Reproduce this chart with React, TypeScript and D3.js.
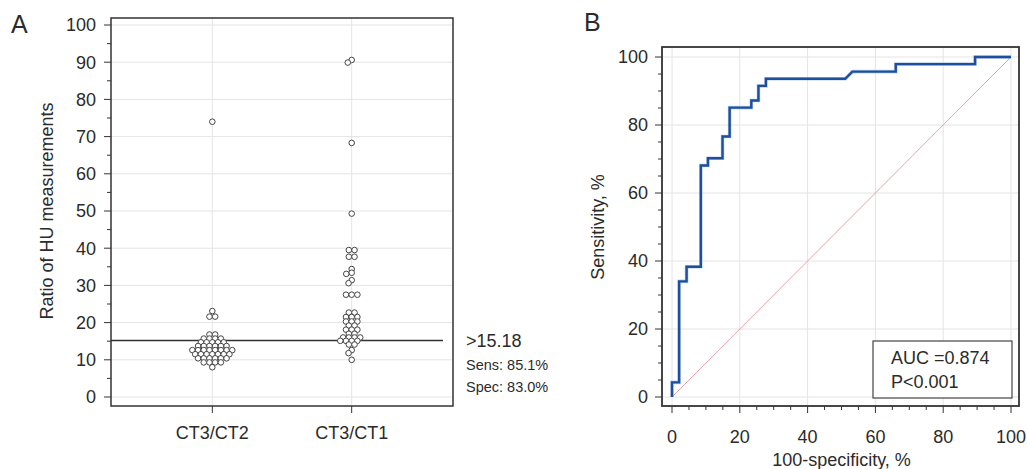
import * as d3 from "d3";

// ---- data ----
const categories = ["CT3/CT2", "CT3/CT1"];
const ratioCt3Ct2 = [
  74.0, 23.1, 21.6, 21.6, 16.8, 16.8, 15.7, 15.7, 15.7, 15.7,
  14.7, 14.7, 14.7, 14.7, 14.7,
  13.7, 13.7, 13.7, 13.7, 13.7, 13.7,
  12.6, 12.6, 12.6, 12.6, 12.6, 12.6, 12.6, 12.6,
  11.5, 11.5, 11.5, 11.5, 11.5, 11.5, 11.5,
  10.4, 10.4, 10.4, 10.4, 10.4, 10.4,
  9.3, 9.3, 9.3, 9.3, 8.0,
];
const ratioCt3Ct1 = [
  90.6, 89.9, 68.3, 49.3, 39.5, 39.5, 37.7, 37.7, 34.4, 33.4, 33.1, 31.4, 30.6,
  27.5, 27.5, 27.5, 22.7, 22.7, 21.5, 21.5, 21.5, 20.3, 20.3, 20.3,
  19.2, 19.2, 18.1, 18.1, 18.1, 17.0, 17.0,
  16.0, 16.0, 16.0, 16.0, 15.1, 15.1, 15.1, 15.1,
  14.1, 14.1, 12.6, 11.8, 10.0,
];
const cutoff = 15.18;
const cutoffLabels = [">15.18", "Sens: 85.1%", "Spec: 83.0%"];

const rocFpr = [0, 0, 2.1, 2.1, 4.3, 4.3, 8.5, 8.5, 10.6, 10.6, 14.9, 14.9, 17.0, 17.0,
  23.4, 23.4, 25.5, 25.5, 27.7, 27.7, 51.1, 53.2, 66.0, 66.0, 89.4, 89.4, 100];
const rocTpr = [0, 4.3, 4.3, 34.0, 34.0, 38.3, 38.3, 68.1, 68.1, 70.2, 70.2, 76.6, 76.6, 85.1,
  85.1, 87.2, 87.2, 91.5, 91.5, 93.6, 93.6, 95.7, 95.7, 97.9, 97.9, 100, 100];
const aucLabels = ["AUC =0.874", "P<0.001"];

const FONT = "'Liberation Sans', Arial, Helvetica, sans-serif";
const TXT = "#2b2b2b";
const GRID = "#e4e4e4";

// beeswarm: equal values are centred as a row, otherwise greedy nearest-to-centre.
// vertical gaps are weighted by k so stacked rows can sit close like the original
function swarm(vals: number[], y: (v: number) => number, d: number, k = 1.6) {
  const placed: { x: number; y: number }[] = [];
  const out: number[] = new Array(vals.length).fill(0);
  const hits = (cx: number, py: number) =>
    placed.some((p) => (p.x - cx) ** 2 + (k * (p.y - py)) ** 2 < d * d - 0.01);
  const groups = d3.groups(d3.range(vals.length), (i) => vals[i]).sort((a, b) => b[0] - a[0]);
  for (const [v, idx] of groups) {
    const py = y(v);
    const row = idx.map((_, j) => (j - (idx.length - 1) / 2) * d);
    if (!row.some((cx) => hits(cx, py))) {
      idx.forEach((i, j) => { out[i] = row[j]; placed.push({ x: row[j], y: py }); });
      continue;
    }
    for (const i of idx) {
      const cands = [0];
      placed.forEach((p) => {
        const dy = k * (p.y - py);
        if (Math.abs(dy) < d) {
          const dx = Math.sqrt(d * d - dy * dy);
          cands.push(p.x + dx, p.x - dx);
        }
      });
      cands.sort((a, b) => Math.abs(a) - Math.abs(b) || a - b);
      const x = cands.find((cx) => !hits(cx, py)) ?? 0;
      out[i] = x;
      placed.push({ x, y: py });
    }
  }
  return out;
}

function PanelA() {
  const frame = { l: 111, r: 453, t: 18, b: 406 };
  const y = d3.scaleLinear().domain([0, 100]).range([397, 25]);
  const x = d3.scalePoint<string>().domain(categories).range([frame.l, frame.r]).padding(0.727);
  const groups = [ratioCt3Ct2, ratioCt3Ct1];
  const major = d3.range(0, 101, 10);
  const minor = d3.range(0, 101, 5).filter((v) => v % 10 !== 0);
  return (
    <g fontFamily={FONT} fill={TXT}>
      <text x={11} y={33} fontSize={25}>A</text>
      {major.map((v) => (
        <line key={"gy" + v} x1={frame.l} x2={frame.r} y1={y(v)} y2={y(v)} stroke={GRID} />
      ))}
      {categories.map((c) => (
        <line key={"gx" + c} x1={x(c)} x2={x(c)} y1={frame.t} y2={frame.b} stroke={GRID} />
      ))}
      <line x1={frame.l} x2={443} y1={y(cutoff)} y2={y(cutoff)} stroke="#333" strokeWidth={1.4} />
      {groups.map((vals, gi) => {
        const offs = swarm(vals, y, 5.7);
        const cx = x(categories[gi])!;
        return vals.map((v, i) => (
          <circle key={gi + "-" + i} cx={cx + offs[i]} cy={y(v)} r={2.8} fill="white" stroke="#444" strokeWidth={1} />
        ));
      })}
      <rect x={frame.l} y={frame.t} width={frame.r - frame.l} height={frame.b - frame.t} fill="none" stroke="#333" strokeWidth={1.5} />
      {major.map((v) => (
        <g key={"t" + v}>
          <line x1={frame.l - 7} x2={frame.l} y1={y(v)} y2={y(v)} stroke="#333" />
          <text x={96} y={y(v)} dy="0.35em" textAnchor="end" fontSize={18}>{v}</text>
        </g>
      ))}
      {minor.map((v) => (
        <line key={"m" + v} x1={frame.l - 4} x2={frame.l} y1={y(v)} y2={y(v)} stroke="#333" />
      ))}
      {categories.map((c) => (
        <g key={"xc" + c}>
          <line x1={x(c)} x2={x(c)} y1={frame.b} y2={frame.b + 7} stroke="#333" />
          <text x={x(c)} y={439} textAnchor="middle" fontSize={18}>{c}</text>
        </g>
      ))}
      <text transform={`translate(53,${(y(0) + y(100)) / 2}) rotate(-90)`} textAnchor="middle" fontSize={18}>
        Ratio of HU measurements
      </text>
      <text x={466} y={347} fontSize={18}>{cutoffLabels[0]}</text>
      <text x={466} y={370} fontSize={14.5}>{cutoffLabels[1]}</text>
      <text x={466} y={392} fontSize={14.5}>{cutoffLabels[2]}</text>
    </g>
  );
}

function PanelB() {
  const frame = { l: 662, r: 1019, t: 47, b: 406 };
  const x = d3.scaleLinear().domain([0, 100]).range([672, 1011]);
  const y = d3.scaleLinear().domain([0, 100]).range([397, 57]);
  const major = d3.range(0, 101, 20);
  const minor = d3.range(0, 101, 5).filter((v) => v % 20 !== 0);
  const pts = rocFpr.map((f, i) => [f, rocTpr[i]] as [number, number]);
  const line = d3.line<[number, number]>().x((d) => x(d[0])).y((d) => y(d[1]));
  return (
    <g fontFamily={FONT} fill={TXT}>
      <text x={584} y={31} fontSize={25}>B</text>
      {major.map((v) => (
        <g key={"g" + v}>
          <line x1={frame.l} x2={frame.r} y1={y(v)} y2={y(v)} stroke={GRID} />
          <line x1={x(v)} x2={x(v)} y1={frame.t} y2={frame.b} stroke={GRID} />
        </g>
      ))}
      <line x1={x(0)} y1={y(0)} x2={x(100)} y2={y(100)} stroke="#e8a2aa" strokeWidth={1} />
      <path d={line(pts)!} fill="none" stroke="#8fb0dd" strokeWidth={3.6} strokeLinejoin="miter" opacity={0.6} />
      <path d={line(pts)!} fill="none" stroke="#1d4f9e" strokeWidth={2.4} strokeLinejoin="miter" />
      <rect x={frame.l} y={frame.t} width={frame.r - frame.l} height={frame.b - frame.t} fill="none" stroke="#333" strokeWidth={1.8} />
      {major.map((v) => (
        <g key={"t" + v}>
          <line x1={frame.l - 7} x2={frame.l} y1={y(v)} y2={y(v)} stroke="#333" />
          <text x={648} y={y(v)} dy="0.35em" textAnchor="end" fontSize={18}>{v}</text>
          <line x1={x(v)} x2={x(v)} y1={frame.b} y2={frame.b + 7} stroke="#333" />
          <text x={x(v)} y={443} textAnchor="middle" fontSize={18}>{v}</text>
        </g>
      ))}
      {minor.map((v) => (
        <g key={"m" + v}>
          <line x1={frame.l - 4} x2={frame.l} y1={y(v)} y2={y(v)} stroke="#333" />
          <line x1={x(v)} x2={x(v)} y1={frame.b} y2={frame.b + 4} stroke="#333" />
        </g>
      ))}
      <text transform={`translate(604,${(y(0) + y(100)) / 2}) rotate(-90)`} textAnchor="middle" fontSize={18}>
        Sensitivity, %
      </text>
      <text x={(x(0) + x(100)) / 2} y={466} textAnchor="middle" fontSize={18}>100-specificity, %</text>
      <rect x={873} y={341} width={139} height={57} fill="white" stroke="#444" strokeWidth={1.2} />
      <text x={891} y={364} fontSize={18}>{aucLabels[0]}</text>
      <text x={891} y={388} fontSize={18}>{aucLabels[1]}</text>
    </g>
  );
}

export default function App() {
  return (
    <svg width={1027} height={469} style={{ position: "absolute", left: 0, top: 0, background: "white" }}>
      <rect width={1027} height={469} fill="white" />
      <PanelA />
      <PanelB />
    </svg>
  );
}
